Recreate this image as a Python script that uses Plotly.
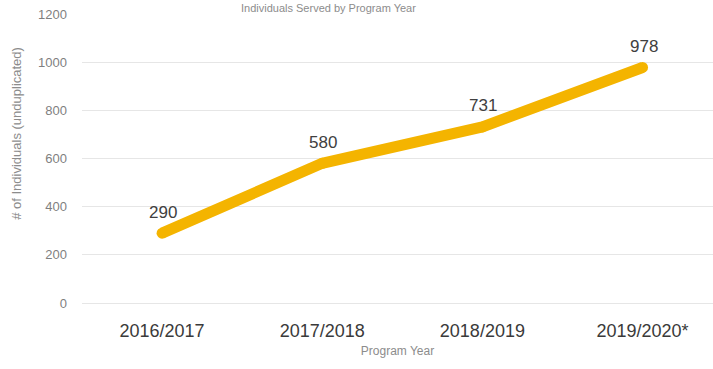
import plotly.graph_objects as go

# Participants per program year
years = ["2016/2017", "2017/2018", "2018/2019", "2019/2020*"]
individuals = [290, 580, 731, 978]
y_ticks = [0, 200, 400, 600, 800, 1000, 1200]

x_pos = list(range(len(years)))
gold = "#F4B400"
font_family = "Liberation Sans"

fig = go.Figure()
fig.add_trace(go.Scatter(
    x=x_pos, y=individuals, mode="lines+markers",
    line=dict(color=gold, width=11),
    marker=dict(color=gold, size=11),
    hoverinfo="skip", showlegend=False,
))

for xi, v in zip(x_pos, individuals):
    fig.add_annotation(
        x=xi, y=v, text=str(v), showarrow=False,
        yshift=21, xshift=1,
        font=dict(family=font_family, size=17, color="#404040"),
    )

# chart title along the top edge
fig.add_annotation(
    xref="paper", yref="paper", x=0.39, y=1.048, yanchor="top",
    text="Individuals Served by Program Year", showarrow=False,
    font=dict(family=font_family, size=11, color="#8C8C8C"),
)

# y-axis title
fig.add_annotation(
    xref="paper", yref="paper", x=-0.105, y=0.588, xanchor="center",
    yanchor="middle", textangle=-90, showarrow=False,
    text="# of Individuals (unduplicated)",
    font=dict(family=font_family, size=13, color="#8C8C8C"),
)

fig.update_layout(
    width=713, height=369,
    margin=dict(l=82, r=0, t=14, b=66),
    paper_bgcolor="white", plot_bgcolor="white",
    font=dict(family=font_family, color="#595959"),
    xaxis=dict(
        range=[-0.5, 3.44], tickmode="array", tickvals=x_pos, ticktext=years,
        showgrid=False, zeroline=False, showline=False, ticks="",
        ticklabelstandoff=15,
        tickfont=dict(size=18, color="#3A3A3A"),
        title=dict(text="Program Year", font=dict(size=12, color="#8C8C8C"),
                   standoff=6),
    ),
    yaxis=dict(
        range=[0, 1200], tickmode="array", tickvals=y_ticks,
        showgrid=True, gridcolor="#E6E6E6", gridwidth=1,
        zeroline=True, zerolinecolor="#E6E6E6", zerolinewidth=1,
        showline=False, ticks="", ticklabelstandoff=14,
        tickfont=dict(size=13, color="#7F7F7F"),
    ),
)

fig.write_html("out.html")
